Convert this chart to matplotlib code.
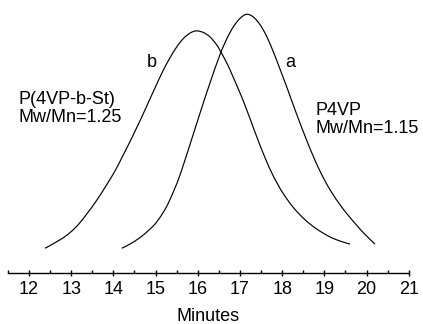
import matplotlib
matplotlib.use("Agg")
import matplotlib.pyplot as plt
from matplotlib.ticker import MultipleLocator
from matplotlib.path import Path
from matplotlib.patches import PathPatch

plt.rcParams['font.family'] = ['Liberation Sans', 'DejaVu Sans']

# Curve b: P(4VP-b-St)
b_min = [12.38, 12.73, 12.97, 13.21, 13.56, 13.84, 14.04, 14.20, 14.39, 14.55,
         14.69, 14.83, 14.99, 15.18, 15.34, 15.50, 15.66, 15.82, 15.97, 16.13,
         16.29, 16.45, 16.53, 16.69, 16.84, 17.00, 17.10, 17.24, 17.40, 17.59,
         17.79, 18.02, 18.26, 18.54, 18.82, 19.13, 19.37, 19.61]
b_int = [0.094, 0.126, 0.154, 0.193, 0.268, 0.338, 0.392, 0.442, 0.503, 0.557,
         0.605, 0.655, 0.712, 0.778, 0.826, 0.868, 0.901, 0.922, 0.930, 0.924,
         0.907, 0.876, 0.854, 0.806, 0.752, 0.692, 0.652, 0.592, 0.522, 0.444,
         0.372, 0.306, 0.252, 0.204, 0.168, 0.138, 0.122, 0.110]

# Curve a: P4VP
a_min = [14.20, 14.39, 14.63, 14.87, 15.03, 15.22, 15.34, 15.46, 15.58, 15.82,
         16.05, 16.29, 16.53, 16.69, 16.84, 17.00, 17.16, 17.32, 17.48, 17.63,
         17.79, 17.95, 18.11, 18.23, 18.38, 18.58, 18.78, 18.98, 19.17, 19.37,
         19.56, 19.77, 19.96, 20.20]
a_int = [0.094, 0.110, 0.135, 0.168, 0.196, 0.242, 0.281, 0.326, 0.376, 0.495,
         0.612, 0.730, 0.840, 0.900, 0.945, 0.978, 0.994, 0.983, 0.953, 0.910,
         0.850, 0.783, 0.714, 0.660, 0.594, 0.510, 0.432, 0.364, 0.310, 0.262,
         0.222, 0.182, 0.148, 0.110]

x_range = (11.5, 21)
major_ticks = [12, 13, 14, 15, 16, 17, 18, 19, 20, 21]


def smooth_path(xs, ys):
    """Catmull-Rom curve through the data points, as cubic Bezier segments."""
    pts = list(zip(xs, ys))
    verts = [pts[0]]
    codes = [Path.MOVETO]
    n = len(pts)
    for i in range(n - 1):
        p0 = pts[i - 1] if i > 0 else pts[i]
        p1 = pts[i]
        p2 = pts[i + 1]
        p3 = pts[i + 2] if i + 2 < n else pts[i + 1]
        c1 = (p1[0] + (p2[0] - p0[0]) / 6.0, p1[1] + (p2[1] - p0[1]) / 6.0)
        c2 = (p2[0] - (p3[0] - p1[0]) / 6.0, p2[1] - (p3[1] - p1[1]) / 6.0)
        verts += [c1, c2, p2]
        codes += [Path.CURVE4, Path.CURVE4, Path.CURVE4]
    return Path(verts, codes)


fig = plt.figure(figsize=(4.23, 3.24), dpi=100)
ax = fig.add_axes([0.0187, 0.1583, 0.9475, 0.8025])

for xs, ys in [(b_min, b_int), (a_min, a_int)]:
    ax.add_patch(PathPatch(smooth_path(xs, ys), facecolor='none',
                           edgecolor='black', lw=0.85))

ax.set_xlim(*x_range)
ax.set_ylim(0, 1)

for s in ['top', 'left', 'right']:
    ax.spines[s].set_visible(False)
ax.spines['bottom'].set_linewidth(1.0)
ax.set_yticks([])
ax.set_xticks(major_ticks)
ax.set_xticklabels([str(t) for t in major_ticks])
ax.xaxis.set_minor_locator(MultipleLocator(0.5))
ax.tick_params(axis='x', which='major', direction='inout', length=5, width=1.0,
               labelsize=13, pad=3.5)
ax.tick_params(axis='x', which='minor', direction='in', length=2.2, width=1.0)
ax.set_xlabel('Minutes', fontsize=13, labelpad=7.5)

fs = 13
ax.text(11.746, 0.649, 'P(4VP-b-St)', fontsize=fs, ha='left', va='baseline')
ax.text(11.746, 0.581, 'Mw/Mn=1.25', fontsize=fs, ha='left', va='baseline')
ax.text(14.797, 0.792, 'b', fontsize=fs, ha='left', va='baseline')
ax.text(18.068, 0.792, 'a', fontsize=fs, ha='left', va='baseline')
ax.text(18.779, 0.607, 'P4VP', fontsize=fs, ha='left', va='baseline')
ax.text(18.779, 0.537, 'Mw/Mn=1.15', fontsize=fs, ha='left', va='baseline')

fig.savefig('out.png', dpi=100)
